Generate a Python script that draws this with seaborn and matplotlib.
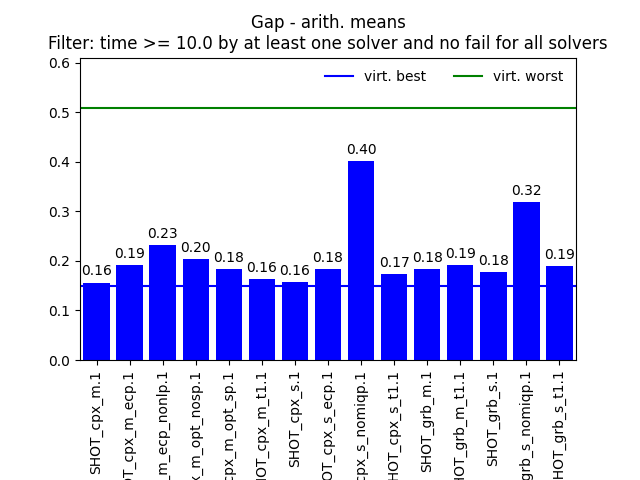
import matplotlib
matplotlib.use("Agg")
import matplotlib.pyplot as plt
import seaborn as sns
import pandas as pd

solvers = ["SHOT_cpx_m.1", "SHOT_cpx_m_ecp.1", "SHOT_cpx_m_ecp_nonlp.1",
           "SHOT_cpx_m_opt_nosp.1", "SHOT_cpx_m_opt_sp.1", "SHOT_cpx_m_t1.1",
           "SHOT_cpx_s.1", "SHOT_cpx_s_ecp.1", "SHOT_cpx_s_nomiqp.1",
           "SHOT_cpx_s_t1.1", "SHOT_grb_m.1", "SHOT_grb_m_t1.1",
           "SHOT_grb_s.1", "SHOT_grb_s_nomiqp.1", "SHOT_grb_s_t1.1"]
gaps = [0.156, 0.191, 0.232, 0.203, 0.183, 0.163, 0.157, 0.183, 0.401,
        0.173, 0.183, 0.191, 0.177, 0.318, 0.190]
virt_best = 0.149
virt_worst = 0.508

df = pd.DataFrame({"solver": solvers, "gap": gaps})

fig, ax = plt.subplots(figsize=(6.4, 4.8), dpi=100)
sns.barplot(data=df, x="solver", y="gap", color="blue", saturation=1,
            width=0.8, ax=ax)
ax.bar_label(ax.containers[0], fmt="%.2f", padding=3)
ax.axhline(virt_best, color="blue", label="virt. best")
ax.axhline(virt_worst, color="green", label="virt. worst")
ax.set_xlim(-0.5, len(solvers) - 0.5)
ax.set_ylim(0, 0.61)
ax.set_xlabel("")
ax.set_ylabel("")
ax.tick_params(axis="x", rotation=90)
ax.legend(loc="upper right", ncol=2, frameon=False)
ax.set_title("Gap - arith. means\nFilter: time >= 10.0 by at least one solver and no fail for all solvers")
fig.subplots_adjust(left=0.125, right=0.9, top=0.88, bottom=0.25)
fig.savefig("out.png", dpi=100)
